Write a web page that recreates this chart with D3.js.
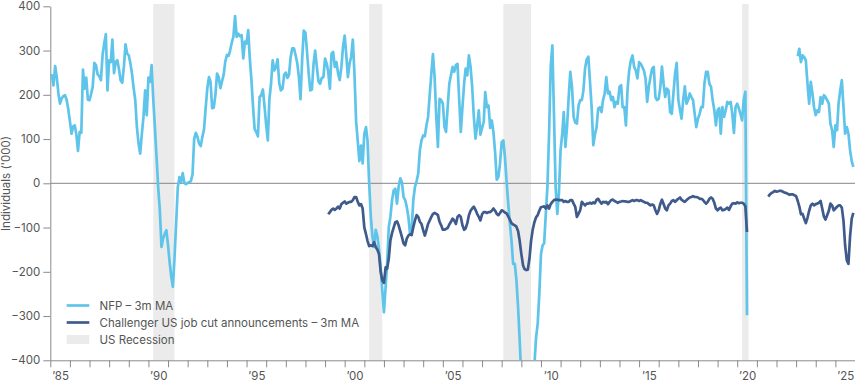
<!DOCTYPE html>
<html><head><meta charset="utf-8">
<script src="https://cdn.jsdelivr.net/npm/d3@7"></script>
<style>
html,body{margin:0;padding:0;background:#fff;}
svg{display:block;font-family:Inter,"Noto Sans",sans-serif;}
</style></head><body>
<svg id="chart" width="855" height="385"></svg>
<script>
// ---------- DATA (thousands of individuals, monthly) ----------
const nfpStart = "1985-01";
const nfp1985_1989 = [
 244,244,221,265,240,203,180,192,197,199,189,168,
 140,112,128,131,110,73,116,114,257,214,239,189,
 188,203,218,272,267,246,242,233,290,316,337,210,
 278,274,325,249,274,278,259,233,227,263,314,293,
 289,270,248,215,188,127,90,67,112,150,210,154];
const nfp1990_1999 = [
 239,229,267,190,127,60,-8,-60,-144,-125,-114,-106,
 -140,-180,-210,-234,-170,-90,-10,14,3,23,1,-2,
 1,3,5,20,100,114,105,90,84,105,122,170,
 215,240,230,170,171,200,248,240,215,230,245,275,
 290,288,300,318,331,378,331,338,332,335,282,320,
 316,346,285,235,175,122,116,106,195,199,212,175,
 132,97,190,225,278,255,262,280,226,210,214,245,
 250,238,245,285,305,305,290,272,240,190,280,345,
 340,295,250,210,212,270,300,263,230,225,238,240,
 282,270,252,214,293,297,263,274,248,233,263,308];
const nfp2000_2009 = [
 334,289,240,270,286,325,248,140,95,50,85,45,
 112,127,97,0,-75,-120,-144,-105,-120,-150,-189,-242,
 -291,-234,-182,-99,-76,-38,-16,-12,-46,-8,11,3,
 -31,-38,-53,-76,-114,-106,-38,-8,5,22,75,97,
 108,106,130,150,199,248,292,240,150,82,191,188,
 180,127,116,172,225,244,263,252,267,270,190,116,
 172,225,259,244,289,263,218,150,101,130,165,110,
 125,139,206,172,176,125,142,115,70,8,14,45,
 93,97,60,5,-45,-90,-129,-182,-182,-219,-279,-355,
 -440,-520,-600,-680,-720,-700,-650,-550,-410,-350,-317,-250];
const nfp2010_2019 = [
 -160,-140,-136,-69,-8,112,263,312,150,-10,-69,-23,
 75,112,161,82,127,195,252,218,150,137,135,175,
 188,188,210,260,280,286,230,172,86,110,127,169,
 172,161,188,203,240,203,207,188,195,172,184,180,
 218,222,172,172,131,214,255,278,289,263,255,237,
 274,270,263,255,237,184,218,240,259,263,195,188,
 191,218,264,225,195,214,210,161,157,203,248,272,
 188,165,146,188,219,180,188,203,195,188,157,127,
 146,157,172,172,225,252,252,225,218,188,165,131,
 165,170,112,172,150,165,184,180,184,157,114,172];
const nfp2020_2025 = [
 180,169,157,142,188,207,-298,null,null,null,null,null,
 null,null,null,null,null,null,null,null,null,null,null,null,
 null,null,null,null,null,null,null,null,null,null,null,null,
 null,287,304,274,289,285,278,225,180,229,203,172,
 154,165,161,195,180,199,195,188,180,135,120,82,
 131,120,180,210,233,172,112,127,112,75,50,37];

const chalStart = "1999-03";
const chal1999 = [-70,-65,-60,-57,-60,-57,-53,-57,-47,-44];
const chal2000_2009 = [
 -41,-46,-44,-42,-42,-38,-31,-31,-42,-50,-47,-57,
 -100,-115,-130,-142,-140,-142,-133,-144,-150,-160,-200,-219,
 -225,-190,-193,-170,-129,-112,-100,-88,-86,-95,-108,-121,
 -136,-140,-125,-118,-115,-117,-99,-84,-72,-76,-87,-92,
 -106,-118,-106,-92,-84,-76,-69,-67,-69,-72,-87,-95,
 -105,-105,-103,-101,-93,-87,-80,-84,-92,-76,-72,-76,
 -95,-105,-102,-90,-72,-62,-57,-53,-60,-69,-76,-84,
 -70,-65,-65,-67,-65,-65,-62,-57,-62,-69,-72,-67,
 -61,-63,-66,-68,-75,-82,-90,-93,-95,-98,-108,-130,
 -160,-185,-194,-196,-195,-170,-130,-104,-88,-77,-72,-62];
const chal2010_2019 = [
 -54,-53,-52,-57,-50,-57,-47,-42,-38,-37,-37,-38,
 -38,-38,-42,-40,-42,-42,-38,-38,-46,-53,-76,-69,
 -61,-42,-46,-50,-46,-46,-44,-46,-43,-45,-37,-35,
 -41,-46,-42,-43,-42,-47,-42,-38,-37,-40,-42,-44,
 -42,-41,-40,-41,-41,-42,-42,-40,-38,-40,-38,-38,
 -40,-38,-40,-42,-44,-44,-47,-50,-48,-50,-61,-69,
 -61,-46,-37,-47,-57,-61,-50,-46,-40,-38,-42,-38,
 -35,-32,-37,-40,-42,-38,-35,-32,-31,-29,-31,-31,
 -32,-35,-35,-37,-42,-46,-42,-35,-32,-35,-44,-57,
 -61,-57,-55,-61,-60,-58,-55,-60,-52,-46,-45,-46];
const chal2020_2025 = [
 -43,-45,-44,-44,-46,-52,-110,null,null,null,null,null,
 null,null,null,null,null,null,null,-30,-25,-22,-20,-17,
 -19,-18,-17,-17,-19,-21,-22,-24,-26,-25,-25,-27,
 -29,-40,-52,-70,-69,-80,-90,-78,-62,-50,-46,-50,
 -47,-46,-44,-40,-57,-75,-82,-72,-62,-46,-50,-61,
 -57,-53,-50,-50,-55,-85,-140,-174,-182,-120,-80,-67];

const recessionStarts = ["1990-04","2001-04","2008-02","2020-04"];
const recessionEnds   = ["1991-05","2001-12","2009-07","2020-08"];

const yTickValues = [-400,-300,-200,-100,0,100,200,300,400];
const xLabelYears = [1985,1990,1995,2000,2005,2010,2015,2020,2025];
const xTickLabels = ["\u201985","\u201990","\u201995","\u201900","\u201905","\u201910","\u201915","\u201920","\u201925"];

const seriesNames = ["NFP \u2013 3m MA","Challenger US job cut announcements \u2013 3m MA","US Recession"];
const seriesColors = ["#5ec4ea","#3f5b8b","#ebebeb"];

// ---------- CHART ----------
const svg = d3.select("#chart");
const parse = d3.timeParse("%Y-%m");
const x = d3.scaleTime().domain([new Date(1985,0,1), new Date(2026,0,1)]).range([50.3, 855]);
const y = d3.scaleLinear().domain([-400,400]).range([360.3, 6.3]);

function toSeries(start, arrs){
  const s = parse(start);
  return [].concat(...arrs).map((v,i)=>({date:d3.timeMonth.offset(s,i), v}));
}
const nfp = toSeries(nfpStart,[nfp1985_1989,nfp1990_1999,nfp2000_2009,nfp2010_2019,nfp2020_2025]);
const chal = toSeries(chalStart,[chal1999,chal2000_2009,chal2010_2019,chal2020_2025]);

svg.append("defs").append("clipPath").attr("id","plot")
  .append("rect").attr("x",50.3).attr("y",0).attr("width",855-50.3).attr("height",y(-400));

// recessions
svg.append("g").selectAll("rect").data(recessionStarts.map((s,i)=>[parse(s),parse(recessionEnds[i])]))
  .join("rect")
  .attr("x",d=>x(d[0])).attr("width",d=>x(d[1])-x(d[0]))
  .attr("y",4).attr("height",y(-400)-4)
  .attr("fill",seriesColors[2]);

// zero line
svg.append("line").attr("x1",x.range()[0]).attr("x2",x.range()[1])
  .attr("y1",y(0)).attr("y2",y(0)).attr("stroke","#858585").attr("stroke-width",1);

// y axis
const yAxis = svg.append("g").attr("transform","translate(50.3,0)")
  .call(d3.axisLeft(y).tickValues(yTickValues).tickSize(7).tickPadding(3).tickSizeOuter(0));
// x axis ticks
const yearTicks = d3.range(1985,2027).map(yr=>new Date(yr,0,1));
const xAxis = svg.append("g").attr("transform",`translate(0,${y(-400)})`)
  .call(d3.axisBottom(x).tickValues(yearTicks).tickSize(7).tickFormat("").tickSizeOuter(0));
// x labels (centred in year)
const xLab = svg.append("g").attr("transform",`translate(0,${y(-400)})`)
  .call(d3.axisBottom(x).tickValues(xLabelYears.map(yr=>new Date(yr,6,2))).tickSize(0).tickPadding(11.5)
    .tickFormat((d,i)=>xTickLabels[i]));
xLab.select(".domain").remove();

[yAxis,xAxis,xLab].forEach(g=>{
  g.attr("font-family",null).attr("font-size",null).attr("color","#555");
  g.selectAll("text").style("font-size","11.5px").style("font-family","Inter, 'Noto Sans', sans-serif");
  g.selectAll("line").attr("stroke","#8a8a8a");
  g.selectAll(".domain").attr("stroke","#8a8a8a");
});

// lines
const line = d3.line().defined(d=>d.v!==null).x(d=>x(d.date)).y(d=>y(d.v));
const plot = svg.append("g").attr("clip-path","url(#plot)");
plot.append("path").datum(nfp).attr("d",line).attr("fill","none")
  .attr("stroke",seriesColors[0]).attr("stroke-width",2.7).attr("stroke-linejoin","round");
plot.append("path").datum(chal).attr("d",line).attr("fill","none")
  .attr("stroke",seriesColors[1]).attr("stroke-width",2.7).attr("stroke-linejoin","round");

// y title
svg.append("text").attr("transform","translate(10,183.5) rotate(-90)")
  .attr("text-anchor","middle").attr("fill","#555").style("font-size","11.5px")
  .text("Individuals ('000)");

// legend
const lg = svg.append("g");
const rows = [305.5, 322.5, 339.5];
seriesNames.forEach((name,i)=>{
  if(i<2){
    lg.append("line").attr("x1",66.7).attr("x2",89.3).attr("y1",rows[i]).attr("y2",rows[i])
      .attr("stroke",seriesColors[i]).attr("stroke-width",2.7);
  } else {
    lg.append("rect").attr("x",66.7).attr("width",22.6).attr("y",rows[i]-4.5).attr("height",9)
      .attr("fill",seriesColors[i]);
  }
  lg.append("text").attr("x",99.5).attr("y",rows[i]).attr("dy","0.35em")
    .attr("fill","#555").style("font-size","11.5px").text(name);
});
</script>
</body></html>
